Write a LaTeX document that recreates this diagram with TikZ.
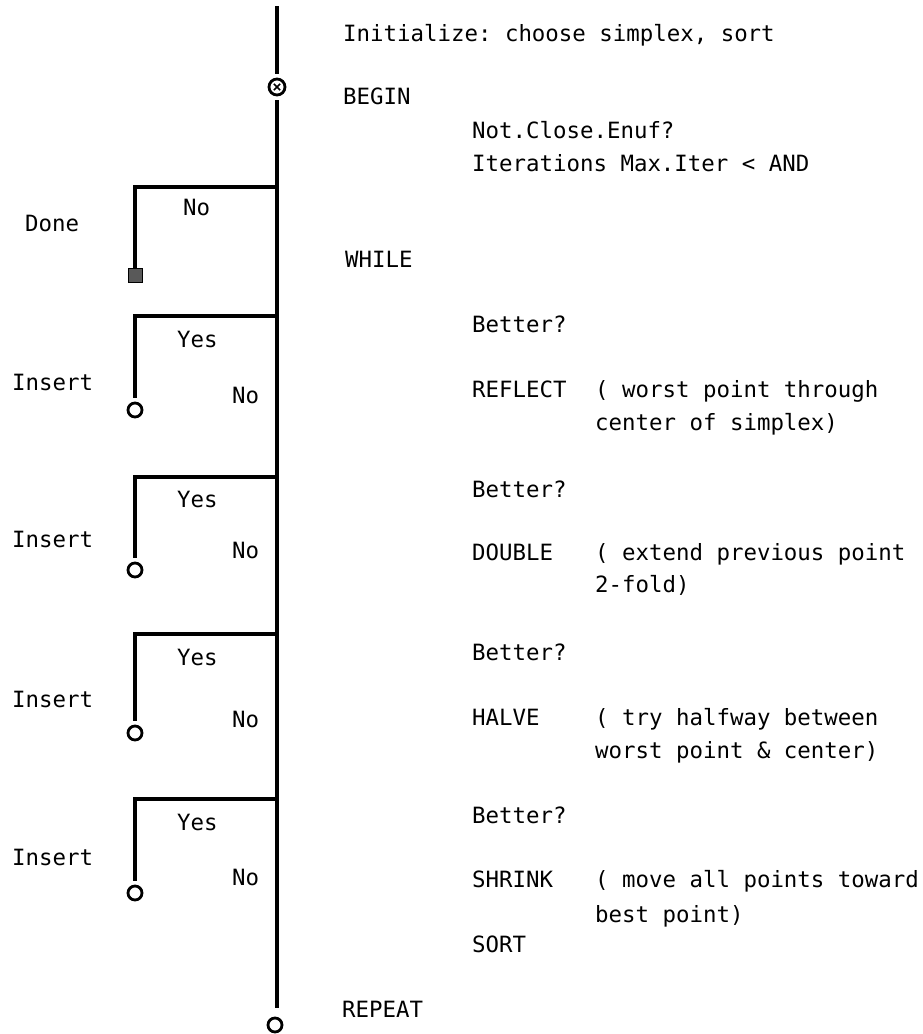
\documentclass[tikz,border=0pt]{standalone}
\usepackage{fontspec}
\setmonofont{DejaVu Sans Mono}
\begin{document}
\begin{tikzpicture}[x=1pt,y=-1pt,
  txt/.style={anchor=base west, inner sep=0pt, font=\ttfamily\fontsize{22.4}{27}\selectfont},
  mainline/.style={line width=3.8pt},
  branch/.style={line width=3.2pt},
  term/.style={circle, draw, line width=2.8pt, minimum size=14pt, inner sep=0pt, outer sep=5pt},
  stopbox/.style={rectangle, draw, fill=black!65, line width=0.6pt, minimum size=14pt, inner sep=0pt, outer sep=0pt}]
\useasboundingbox (0,0) rectangle (922,1034);
% main spine
\coordinate (top) at (277,6);
\node[term, minimum size=16pt, path picture={\draw[line width=1.5pt] ([shift={(-3.2,-3.2)}]path picture bounding box.center) -- ([shift={(3.2,3.2)}]path picture bounding box.center);
  \draw[line width=1.5pt] ([shift={(-3.2,3.2)}]path picture bounding box.center) -- ([shift={(3.2,-3.2)}]path picture bounding box.center);}] (begin) at (277,87) {};
\coordinate (j1) at (277,187);
\coordinate (j2) at (277,316);
\coordinate (j3) at (277,477);
\coordinate (j4) at (277,634);
\coordinate (j5) at (277,799);
\coordinate (bot) at (277,1008);
\node[term] (end) at (275,1025) {};
\draw[mainline] (top) -- (begin);
\draw[mainline] (begin) -- (bot);
% exits
\node[stopbox] (done) at (135,275) {};
\node[term] (ins1) at (135,410) {};
\node[term] (ins2) at (135,570) {};
\node[term] (ins3) at (135,733) {};
\node[term] (ins4) at (135,893) {};
\draw[branch] (j1) -| (done.north);
\draw[branch] (j2) -| (ins1);
\draw[branch] (j3) -| (ins2);
\draw[branch] (j4) -| (ins3);
\draw[branch] (j5) -| (ins4);
% left labels
\node[txt] (tdone) at (25,231) {Done};
\node[txt] (tno0) at (183,215) {No};
\node[txt] (tyes1) at (177,347) {Yes};
\node[txt] (tins1) at (12,390) {Insert};
\node[txt] (tno1) at (232,403) {No};
\node[txt] (tyes2) at (177,507) {Yes};
\node[txt] (tins2) at (12,547) {Insert};
\node[txt] (tno2) at (232,558) {No};
\node[txt] (tyes3) at (177,665) {Yes};
\node[txt] (tins3) at (12,707) {Insert};
\node[txt] (tno3) at (232,727) {No};
\node[txt] (tyes4) at (177,830) {Yes};
\node[txt] (tins4) at (12,865) {Insert};
\node[txt] (tno4) at (232,885) {No};
% right column
\node[txt] (init) at (343,41) {Initialize: choose simplex, sort};
\node[txt] (tbegin) at (343,104) {BEGIN};
\node[txt] (nce) at (472,138) {Not.Close.Enuf?};
\node[txt] (iter) at (472,171) {Iterations Max.Iter < AND};
\node[txt] (twhile) at (345,267) {WHILE};
\node[txt] (b1) at (472,332) {Better?};
\node[txt] (refl) at (472,397) {REFLECT};
\node[txt] (refl1) at (595,397) {( worst point through};
\node[txt] (refl2) at (595,430) {center of simplex)};
\node[txt] (b2) at (472,497) {Better?};
\node[txt] (dbl) at (472,560) {DOUBLE};
\node[txt] (dbl1) at (595,560) {( extend previous point};
\node[txt] (dbl2) at (595,592) {2-fold)};
\node[txt] (b3) at (472,660) {Better?};
\node[txt] (hlv) at (472,725) {HALVE};
\node[txt] (hlv1) at (595,725) {( try halfway between};
\node[txt] (hlv2) at (595,758) {worst point \& center)};
\node[txt] (b4) at (472,823) {Better?};
\node[txt] (shr) at (472,887) {SHRINK};
\node[txt] (shr1) at (595,887) {( move all points toward};
\node[txt] (shr2) at (595,922) {best point)};
\node[txt] (srt) at (472,952) {SORT};
\node[txt] (trep) at (342,1017) {REPEAT};
\end{tikzpicture}
\end{document}
